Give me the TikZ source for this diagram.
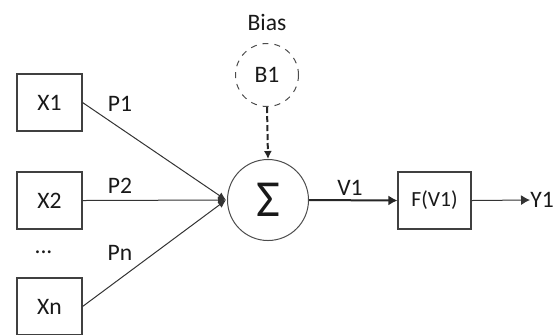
\documentclass[tikz,border=0pt]{standalone}
\usepackage{fontspec}
\setmainfont{Carlito}
\usetikzlibrary{arrows.meta}
\begin{document}
\begin{tikzpicture}[x=0.5pt,y=-0.5pt,
  txt/.style={font=\fontsize{11.8}{13}\selectfont, inner sep=0pt, text=black!90},
  box/.style={txt, draw=black!75, line width=0.55pt, minimum width=32.5pt, minimum height=28.5pt},
  wire/.style={draw=black!80, line width=0.5pt},
  tipsmall/.style={-{Latex[length=4pt,width=3.6pt]}},
  tipbig/.style={-{Latex[length=4.5pt,width=5pt]}}]
\useasboundingbox (0,0) rectangle (560,334);

% inputs
\node[box] (x1) at (49.5,102.5) {X1};
\node[box] (x2) at (49.5,200.5) {X2};
\node[box] (xn) at (49.5,306.5) {Xn};
\node[txt] (dots) at (43.5,252) {...};

% summing junction and bias
\node[txt, circle, draw=black!70, line width=0.5pt, minimum size=40.5pt,
      font=\fontsize{26}{30}\selectfont] (sum) at (268,200) {Σ};
\coordinate (j) at (226,200);
\node[txt, circle, draw=black!70, dashed, line width=0.5pt, minimum size=31.5pt] (b1) at (267,75) {B1};
\node[txt] (bias) at (267,22) {Bias};

% activation and output
\node[box, minimum width=36.5pt, font=\fontsize{10.8}{12}\selectfont] (f) at (434.5,200.5) {F(V1)};
\node[txt, anchor=west] (y1) at (530,200) {Y1};

% weighted inputs
\draw[wire, tipsmall] (x1.east) -- (j);
\draw[wire, tipsmall] (x2.east) -- (j);
\draw[wire, tipsmall] (xn.east) -- (j);
\node[txt] (p1) at (120,104) {P1};
\node[txt] (p2) at (120,186) {P2};
\node[txt] (pn) at (120,253) {Pn};

% bias into the sum
\draw[draw=black!85, line width=1pt, dashed, dash pattern=on 3pt off 1.5pt, -{Latex[length=4pt,width=4pt]}] (b1.south) -- (sum.north);

% sum to activation to output
\draw[draw=black!85, line width=1pt, tipbig] (sum.east) -- (f.west);
\node[txt] (v1) at (350,188) {V1};
\draw[wire, tipbig] (f.east) -- (y1.west);
\end{tikzpicture}
\end{document}
